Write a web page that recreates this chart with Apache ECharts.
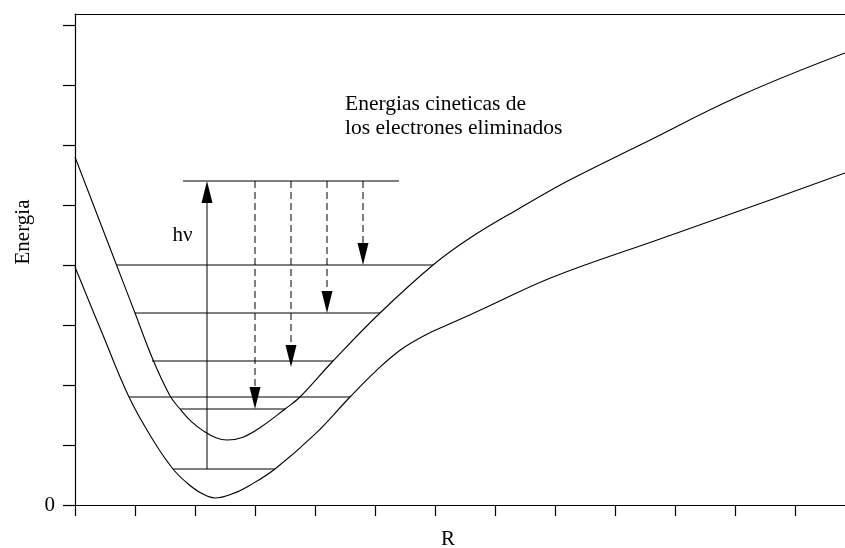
<!DOCTYPE html>
<html>
<head>
<meta charset="utf-8">
<script src="https://cdn.jsdelivr.net/npm/echarts@6/dist/echarts.min.js"></script>
<style>
  html, body { margin: 0; padding: 0; background: #fff; }
  #chart { width: 845px; height: 548px; }
</style>
</head>
<body>
<div id="chart"></div>
<script>
// Potential energy curve of the neutral molecule (lower curve)
const lowerR = [0, 0.45, 0.9, 1.3, 1.633, 1.867, 2.1, 2.333, 2.633, 2.917, 3.333, 4.0, 4.583, 5.0, 5.417, 5.833, 6.25, 6.867, 7.967, 9.75, 11.633, 12.833];
const lowerE = [3.967, 2.87, 1.8, 1.083, 0.6, 0.367, 0.2, 0.117, 0.19, 0.33, 0.6, 1.18, 1.8, 2.22, 2.58, 2.83, 3.02, 3.3, 3.8, 4.433, 5.1, 5.533];

// Potential energy curve of the ion (upper curve)
const upperR = [0, 0.7, 1.0, 1.3, 1.583, 1.75, 1.95, 2.133, 2.35, 2.533, 2.8, 3.1, 3.5, 3.75, 4.3, 5.083, 5.967, 6.583, 7.417, 8.25, 9.417, 11.083, 12.833];
const upperE = [5.8, 3.98, 3.2, 2.42, 1.82, 1.6, 1.38, 1.24, 1.12, 1.083, 1.13, 1.3, 1.6, 1.8, 2.4, 3.2, 4.0, 4.45, 4.95, 5.42, 6.0, 6.82, 7.533];

// Horizontal energy levels: energy, left end, right end
const levelE  = [5.4, 4.0, 3.2, 2.4, 1.6, 1.8, 0.6];
const levelR0 = [1.8, 0.7, 1.0, 1.283, 1.75, 0.9, 1.633];
const levelR1 = [5.4, 5.967, 5.083, 4.3, 3.5, 4.583, 3.333];

// Photon absorption arrow (hν): position, start energy, end energy
const photonR = [2.2];
const photonFrom = [0.6];
const photonTo = [5.4];

// Kinetic energy arrows (dashed)
const kineticR = [3.0, 3.6, 4.2, 4.8];
const kineticFrom = [5.4, 5.4, 5.4, 5.4];
const kineticTo = [1.6, 2.3, 3.2, 4.0];

// Axis ticks and labels
const xTickValues = [0, 1, 2, 3, 4, 5, 6, 7, 8, 9, 10, 11, 12];
const yTickValues = [0, 1, 2, 3, 4, 5, 6, 7, 8];
const yLabelValues = [0];

const FONT = "'Liberation Serif', 'Times New Roman', serif";
const zip = (a, b) => a.map((v, i) => [v, b[i]]);

function arrowRenderer(dash) {
  return function (params, api) {
    const a = api.coord([api.value(0), api.value(1)]);
    const b = api.coord([api.value(0), api.value(2)]);
    const dir = b[1] < a[1] ? -1 : 1;
    const headLen = 22, headHalf = 5.5;
    const base = b[1] - dir * headLen;
    return {
      type: 'group',
      children: [
        { type: 'line', shape: { x1: a[0], y1: a[1], x2: b[0], y2: base },
          style: { stroke: '#000', lineWidth: 1, lineDash: dash } },
        { type: 'polygon', shape: { points: [[b[0], b[1]], [b[0] - headHalf, base], [b[0] + headHalf, base]] },
          style: { fill: '#000' } }
      ]
    };
  };
}

const chart = echarts.init(document.getElementById('chart'), null, { renderer: 'canvas' });

chart.setOption({
  animation: false,
  backgroundColor: '#fff',
  grid: { left: 75, right: 0, top: 14, bottom: 43 },
  xAxis: [
    {
      type: 'value', min: 0, max: 770 / 60, interval: 1,
      axisLine: { show: true, lineStyle: { color: '#000', width: 1.2 } },
      axisTick: { show: true, length: 11, inside: false, customValues: xTickValues, lineStyle: { color: '#000', width: 1.2 } },
      axisLabel: { show: false },
      splitLine: { show: false }
    },
    {
      type: 'value', position: 'top', min: 0, max: 770 / 60,
      axisLine: { show: true, lineStyle: { color: '#000', width: 1 } },
      axisTick: { show: false }, axisLabel: { show: false }, splitLine: { show: false }
    }
  ],
  yAxis: {
    type: 'value', min: 0, max: 491 / 60, interval: 1,
    axisLine: { show: true, lineStyle: { color: '#000', width: 1.2 } },
    axisTick: { show: true, length: 12, inside: false, customValues: yTickValues, lineStyle: { color: '#000', width: 1.2 } },
    axisLabel: {
      show: true, customValues: yLabelValues, margin: 20,
      color: '#000', fontFamily: FONT, fontSize: 21,
      formatter: v => String(v)
    },
    splitLine: { show: false }
  },
  series: [
    {
      type: 'line', xAxisIndex: 0, data: zip(lowerR, lowerE), smooth: 0.4,
      showSymbol: false, silent: true,
      lineStyle: { color: '#000', width: 1.1 }
    },
    {
      type: 'line', xAxisIndex: 0, data: zip(upperR, upperE), smooth: 0.4,
      showSymbol: false, silent: true,
      lineStyle: { color: '#000', width: 1.1 }
    },
    {
      type: 'custom', xAxisIndex: 0, silent: true,
      dimensions: ['r0', 'r1', 'e'],
      encode: { x: [0, 1], y: 2 },
      data: levelE.map((e, i) => [levelR0[i], levelR1[i], e]),
      renderItem: function (params, api) {
        const p0 = api.coord([api.value(0), api.value(2)]);
        const p1 = api.coord([api.value(1), api.value(2)]);
        return { type: 'line', shape: { x1: p0[0], y1: p0[1], x2: p1[0], y2: p1[1] },
                 style: { stroke: '#000', lineWidth: 1 } };
      }
    },
    {
      type: 'custom', xAxisIndex: 0, silent: true,
      dimensions: ['r', 'from', 'to'],
      encode: { x: 0, y: [1, 2] },
      data: photonR.map((r, i) => [r, photonFrom[i], photonTo[i]]),
      renderItem: arrowRenderer(null)
    },
    {
      type: 'custom', xAxisIndex: 0, silent: true,
      dimensions: ['r', 'from', 'to'],
      encode: { x: 0, y: [1, 2] },
      data: kineticR.map((r, i) => [r, kineticFrom[i], kineticTo[i]]),
      renderItem: arrowRenderer([7, 4])
    }
  ],
  graphic: [
    { type: 'text', x: 345, y: 104.5, style: { text: 'Energias cineticas de', fill: '#000', font: '21.5px ' + FONT, textAlign: 'left', textVerticalAlign: 'middle' } },
    { type: 'text', x: 345, y: 128, style: { text: 'los electrones eliminados', fill: '#000', font: '21.5px ' + FONT, textAlign: 'left', textVerticalAlign: 'middle' } },
    { type: 'text', x: 182.5, y: 235, style: { text: 'hν', fill: '#000', font: '21px ' + FONT, textAlign: 'center', textVerticalAlign: 'middle' } },
    { type: 'text', x: 448, y: 539.5, style: { text: 'R', fill: '#000', font: '21px ' + FONT, textAlign: 'center', textVerticalAlign: 'middle' } },
    { type: 'text', x: 23, y: 232, rotation: Math.PI / 2, style: { text: 'Energia', fill: '#000', font: '21px ' + FONT, textAlign: 'center', textVerticalAlign: 'middle' } }
  ]
});
</script>
</body>
</html>
